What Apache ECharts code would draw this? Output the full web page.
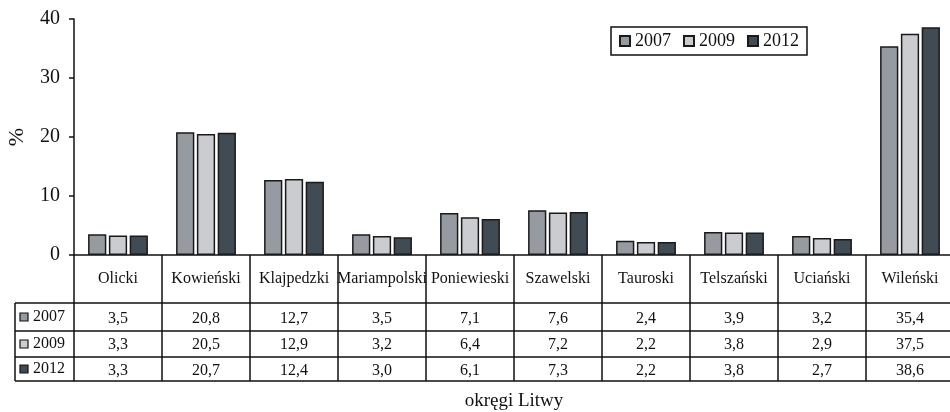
<!DOCTYPE html>
<html>
<head>
<meta charset="utf-8">
<script src="https://cdn.jsdelivr.net/npm/echarts@6/dist/echarts.min.js"></script>
<style>
  html, body { margin: 0; padding: 0; background: #fff; }
  #chart { width: 950px; height: 412px; }
</style>
</head>
<body>
<div id="chart"></div>
<script>
// okręgi Litwy
const categories = ['Olicki', 'Kowieński', 'Klajpedzki', 'Mariampolski', 'Poniewieski',
  'Szawelski', 'Tauroski', 'Telszański', 'Uciański', 'Wileński']
const years = ['2007', '2009', '2012']
const values2007 = [3.5, 20.8, 12.7, 3.5, 7.1, 7.6, 2.4, 3.9, 3.2, 35.4]
const values2009 = [3.3, 20.5, 12.9, 3.2, 6.4, 7.2, 2.2, 3.8, 2.9, 37.5]
const values2012 = [3.3, 20.7, 12.4, 3.0, 6.1, 7.3, 2.2, 3.8, 2.7, 38.6]
const yTicks = [0, 10, 20, 30, 40]

const seriesValues = [values2007, values2009, values2012]
const colors = ['#969ba2', '#cbcccf', '#414b53']
const font = 'Liberation Serif'

// rozmiary tabeli pod wykresem
const gridLeft = 74
const gridTop = 19
const gridHeight = 236
const tableLeft = 15
const rowOffsets = [48, 76, 102, 126] // linie poziome tabeli od osi 0
const fmt = v => v.toFixed(1).replace('.', ',')

const chart = echarts.init(document.getElementById('chart'))

const axisBottom = gridTop + gridHeight
const xAxes = [{
  type: 'category',
  data: categories,
  position: 'bottom',
  axisLine: { lineStyle: { color: '#111', width: 1.5 } },
  axisTick: { show: true, length: rowOffsets[3], lineStyle: { color: '#111', width: 1.5 } },
  axisLabel: { interval: 0, hideOverlap: false, margin: 16, color: '#111', fontFamily: font, fontSize: 16 }
}]
seriesValues.forEach((arr, i) => {
  xAxes.push({
    type: 'category',
    data: arr.map(fmt),
    position: 'bottom',
    offset: rowOffsets[i],
    axisLine: { lineStyle: { color: '#111', width: 1.5 } },
    axisTick: { show: false },
    axisLabel: { interval: 0, hideOverlap: false, margin: i === 0 ? 8 : 6, color: '#111', fontFamily: font, fontSize: 16 }
  })
})
xAxes.push({
  type: 'category',
  data: categories,
  position: 'bottom',
  offset: rowOffsets[3],
  axisLine: { lineStyle: { color: '#111', width: 1.5 } },
  axisTick: { show: false },
  axisLabel: { show: false },
  name: 'okręgi Litwy',
  nameLocation: 'middle',
  nameGap: 11,
  nameTextStyle: { color: '#111', fontFamily: font, fontSize: 19, verticalAlign: 'top' }
})

// lewa kolumna tabeli (legenda wierszy)
const graphics = []
rowOffsets.forEach(off => {
  graphics.push({
    type: 'line', shape: { x1: tableLeft, y1: axisBottom + off, x2: gridLeft, y2: axisBottom + off },
    style: { stroke: '#111', lineWidth: 1.5 }
  })
})
graphics.push({
  type: 'line', shape: { x1: tableLeft, y1: axisBottom + rowOffsets[0], x2: tableLeft, y2: axisBottom + rowOffsets[3] },
  style: { stroke: '#111', lineWidth: 1.5 }
})
years.forEach((y, i) => {
  const mid = axisBottom + (rowOffsets[i] + rowOffsets[i + 1]) / 2
  graphics.push({
    type: 'rect', shape: { x: 20, y: mid - 4, width: 8, height: 8 },
    style: { fill: colors[i], stroke: '#111', lineWidth: 1.2 }
  })
  graphics.push({
    type: 'text', x: 33, y: mid,
    style: { text: y, fill: '#111', font: '16px "' + font + '"', verticalAlign: 'middle' }
  })
})

const option = {
  animation: false,
  backgroundColor: '#fff',
  grid: { left: gridLeft, top: gridTop, width: 880, height: gridHeight, containLabel: false, outerBoundsMode: 'none' },
  legend: {
    data: years,
    left: 611,
    top: 27,
    padding: [5, 8],
    itemGap: 12,
    itemWidth: 10,
    itemHeight: 10,
    icon: 'rect',
    borderColor: '#111',
    borderWidth: 1.5,
    textStyle: { color: '#111', fontFamily: font, fontSize: 18 }
  },
  xAxis: xAxes,
  yAxis: {
    type: 'value',
    min: yTicks[0],
    max: yTicks[yTicks.length - 1],
    interval: 10,
    name: '%',
    nameLocation: 'middle',
    nameGap: 46,
    nameRotate: 90,
    nameTextStyle: { color: '#111', fontFamily: font, fontSize: 22 },
    axisLine: { show: true, lineStyle: { color: '#111', width: 1.5 } },
    axisTick: { show: true, length: 5, lineStyle: { color: '#111', width: 1.5 } },
    axisLabel: { margin: 14, color: '#111', fontFamily: font, fontSize: 20 },
    splitLine: { show: false }
  },
  series: years.map((y, i) => ({
    name: y,
    type: 'bar',
    xAxisIndex: 0,
    data: seriesValues[i],
    barCategoryGap: '32%',
    barGap: '14%',
    itemStyle: { color: colors[i], borderColor: '#1a1a1a', borderWidth: 1.5 }
  })),
  graphic: graphics
}

chart.setOption(option)
</script>
</body>
</html>
